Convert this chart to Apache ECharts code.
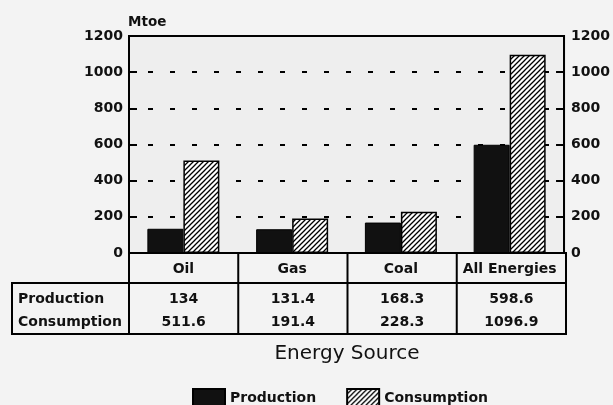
<!DOCTYPE html>
<html><head><meta charset="utf-8">
<script src="https://cdn.jsdelivr.net/npm/echarts@6/dist/echarts.min.js"></script>
<style>html,body{margin:0;padding:0;background:#f3f3f3}#c{width:613px;height:405px}</style>
</head><body><div id="c"></div>
<script>
const categories = ['Oil', 'Gas', 'Coal', 'All Energies'];
const production = [134, 131.4, 168.3, 598.6];
const consumption = [511.6, 191.4, 228.3, 1096.9];
const productionLabels = ['134', '131.4', '168.3', '598.6'];
const consumptionLabels = ['511.6', '191.4', '228.3', '1096.9'];
const yTicks = [0, 200, 400, 600, 800, 1000, 1200];

const FONT = '"DejaVu Sans", "Liberation Sans", sans-serif';
const GL = 129, GR = 566, GT = 36, GB = 253;
const W = 613, H = 405;

function hatch() {
  const s = 5;
  const c = document.createElement('canvas');
  c.width = s; c.height = s;
  const g = c.getContext('2d');
  g.fillStyle = '#ffffff'; g.fillRect(0, 0, s, s);
  g.strokeStyle = '#000'; g.lineWidth = 1.3;
  g.beginPath();
  g.moveTo(-1, s + 1); g.lineTo(s + 1, -1);
  g.moveTo(-1, 1); g.lineTo(1, -1);
  g.moveTo(s - 1, s + 1); g.lineTo(s + 1, s - 1);
  g.stroke();
  return c;
}

const chart = echarts.init(document.getElementById('c'), null, {renderer: 'canvas'});
const colW = (GR - GL) / categories.length;
const tableTop = 283, tableBot = 334, tableLeft = 12;
const rowY1 = 299, rowY2 = 322;
const gfx = [];
gfx.push({type: 'rect', shape: {x: GL, y: GB, width: GR - GL, height: tableTop - GB}, style: {fill: 'none', stroke: '#000', lineWidth: 2}, z: 10});
gfx.push({type: 'rect', shape: {x: tableLeft, y: tableTop, width: GR - tableLeft, height: tableBot - tableTop}, style: {fill: 'none', stroke: '#000', lineWidth: 2}, z: 10});
for (let i = 0; i < categories.length; i++) {
  const x = GL + i * colW;
  gfx.push({type: 'line', shape: {x1: x, y1: GB, x2: x, y2: tableBot}, style: {stroke: '#000', lineWidth: 2}, z: 10});
  const cx = x + colW / 2;
  gfx.push({type: 'text', style: {text: productionLabels[i], x: cx, y: rowY1, align: 'center', verticalAlign: 'middle', font: 'bold 14px ' + FONT, fill: '#111'}, z: 10});
  gfx.push({type: 'text', style: {text: consumptionLabels[i], x: cx, y: rowY2, align: 'center', verticalAlign: 'middle', font: 'bold 14px ' + FONT, fill: '#111'}, z: 10});
}
gfx.push({type: 'text', style: {text: 'Production', x: 18, y: rowY1, align: 'left', verticalAlign: 'middle', font: 'bold 14px ' + FONT, fill: '#111'}, z: 10});
gfx.push({type: 'text', style: {text: 'Consumption', x: 18, y: rowY2, align: 'left', verticalAlign: 'middle', font: 'bold 14px ' + FONT, fill: '#111'}, z: 10});
gfx.push({type: 'text', style: {text: 'Energy Source', x: 347, y: 354, align: 'center', verticalAlign: 'middle', font: '20px ' + FONT, fill: '#111'}, z: 10});
gfx.push({type: 'text', style: {text: 'Mtoe', x: 128, y: 22, align: 'left', verticalAlign: 'middle', font: 'bold 13.5px ' + FONT, fill: '#111'}, z: 10});

const yAxisCommon = {
  type: 'value', min: yTicks[0], max: yTicks[yTicks.length - 1], interval: 200,
  axisLine: {show: true, lineStyle: {color: '#000', width: 2}},
  axisTick: {show: true, inside: true, length: 8, lineStyle: {color: '#000', width: 2}},
  axisLabel: {color: '#111', fontFamily: FONT, fontWeight: 'bold', fontSize: 14,
    formatter: v => String(v), padding: [4, 0, 0, 0]},
};

chart.setOption({
  backgroundColor: '#f3f3f3',
  animation: false,
  grid: {left: GL, right: W - GR, top: GT, bottom: H - GB, show: true, backgroundColor: '#eeeeee', borderColor: '#000', borderWidth: 2},
  legend: {
    data: ['Production', 'Consumption'], left: 187, top: 383,
    icon: 'rect', itemWidth: 32, itemHeight: 18, itemGap: 30,
    textStyle: {color: '#111', fontFamily: FONT, fontWeight: 'bold', fontSize: 14}
  },
  xAxis: {
    type: 'category', data: categories,
    axisLine: {show: true, lineStyle: {color: '#000', width: 2}},
    axisTick: {show: false},
    axisLabel: {color: '#111', fontFamily: FONT, fontWeight: 'bold', fontSize: 14, margin: 9, interval: 0, hideOverlap: false},
    splitLine: {show: false}
  },
  yAxis: [
    Object.assign({}, yAxisCommon, {position: 'left', axisLabel: Object.assign({}, yAxisCommon.axisLabel, {margin: 6}),
      splitLine: {show: true, lineStyle: {color: '#000', width: 2, type: [5, 17], dashOffset: 3}}}),
    Object.assign({}, yAxisCommon, {position: 'right', axisLabel: Object.assign({}, yAxisCommon.axisLabel, {margin: 7}), splitLine: {show: false}})
  ],
  series: [
    {name: 'Production', type: 'bar', data: production, barWidth: 36, barGap: '0%',
      itemStyle: {color: '#111', borderColor: '#000', borderWidth: 1}},
    {name: 'Consumption', type: 'bar', data: consumption, barWidth: 36, barGap: '0%',
      itemStyle: {color: {image: hatch(), repeat: 'repeat'}, borderColor: '#000', borderWidth: 1.5}}
  ],
  graphic: gfx
});
</script></body></html>
